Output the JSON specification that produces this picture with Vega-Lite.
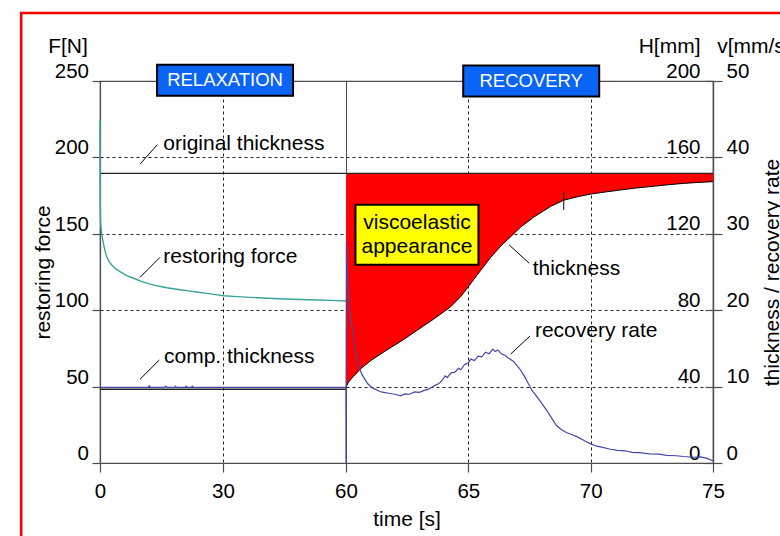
{
  "$schema": "https://vega.github.io/schema/vega-lite/v6.json",
  "width": 613,
  "height": 382,
  "autosize": {"type": "none"},
  "padding": {"left": 100, "top": 81, "right": 67, "bottom": 73},
  "background": "#ffffff",
  "config": {
    "view": {"stroke": "#4d4d4d", "strokeWidth": 1.2},
    "font": "Liberation Sans",
    "axis": {
      "labelFont": "Liberation Sans", "labelFontSize": 20.5, "labelColor": "#000",
      "titleFont": "Liberation Sans", "titleFontSize": 21, "titleFontWeight": "normal", "titleColor": "#000",
      "domainColor": "#4d4d4d", "domainWidth": 1.2, "tickColor": "#4d4d4d", "tickWidth": 1.2,
      "gridColor": "#222", "gridWidth": 1, "gridDash": [3, 3],
      "labelOverlap": false, "labelFlush": false, "labelBound": false
    },
    "text": {"font": "Liberation Sans"}
  },
  "datasets": {
    "force": [
      {"t": 0, "F": 224}, {"t": 0.03, "F": 195}, {"t": 0.07, "F": 170}, {"t": 0.14, "F": 159},
      {"t": 0.25, "F": 153.5}, {"t": 0.41, "F": 150.3}, {"t": 0.6, "F": 147}, {"t": 0.82, "F": 143.8},
      {"t": 1.2, "F": 139}, {"t": 1.63, "F": 135}, {"t": 2.2, "F": 132}, {"t": 2.86, "F": 129.6},
      {"t": 3.8, "F": 127.2}, {"t": 4.9, "F": 125.2}, {"t": 6.4, "F": 122.8}, {"t": 8.16, "F": 120.9},
      {"t": 10.1, "F": 118.9}, {"t": 12.2, "F": 117.1}, {"t": 14.2, "F": 115.8}, {"t": 16.3, "F": 114.7},
      {"t": 18.7, "F": 113.7}, {"t": 21.2, "F": 112.8}, {"t": 23.6, "F": 111.9}, {"t": 26.1, "F": 111.0},
      {"t": 28.2, "F": 110.2}, {"t": 30.2, "F": 109.5}, {"t": 33.4, "F": 108.9}, {"t": 36.7, "F": 108.4},
      {"t": 40.8, "F": 107.8}, {"t": 44.9, "F": 107.3}, {"t": 49, "F": 107.0}, {"t": 53.1, "F": 106.7},
      {"t": 56.5, "F": 106.4}, {"t": 60, "F": 106.0}
    ],
    "thick": [
      {"t": 60, "H": 38.7}, {"t": 60.03, "H": 40.5}, {"t": 60.1, "H": 42.3}, {"t": 60.3, "H": 45.3},
      {"t": 60.6, "H": 49.3}, {"t": 61.0, "H": 53.5}, {"t": 61.6, "H": 58.6}, {"t": 62.3, "H": 64.2},
      {"t": 62.92, "H": 69.6}, {"t": 63.6, "H": 75.5}, {"t": 64.28, "H": 81.8}, {"t": 64.7, "H": 87.3},
      {"t": 65.03, "H": 92.8}, {"t": 65.5, "H": 100.8}, {"t": 65.91, "H": 107.6}, {"t": 66.3, "H": 113.2},
      {"t": 66.73, "H": 118.5}, {"t": 67.13, "H": 123.4}, {"t": 67.68, "H": 128.8}, {"t": 68.36, "H": 134.3},
      {"t": 68.9, "H": 137.6}, {"t": 69.5, "H": 139.5}, {"t": 70.0, "H": 140.8}, {"t": 70.6, "H": 141.9},
      {"t": 71.2, "H": 142.9}, {"t": 71.8, "H": 143.9}, {"t": 72.43, "H": 144.7}, {"t": 73.1, "H": 145.6},
      {"t": 73.8, "H": 146.4}, {"t": 74.4, "H": 146.9}, {"t": 75, "H": 147.3}
    ],
    "levels": [
      {"level": "original", "t": 0, "H": 151.6}, {"level": "original", "t": 75, "H": 151.6},
      {"level": "comp", "t": 0, "H": 38.6}, {"level": "comp", "t": 60, "H": 38.6}
    ],
    "marker": [{"t": 68.9, "H": 132.5, "H2": 142.2}],
    "rate": [
      {"t": 0, "v": 9.9}, {"t": 3, "v": 9.9}, {"t": 11.8, "v": 9.9}, {"t": 12.0, "v": 10.1}, {"t": 12.3, "v": 9.9},
      {"t": 15.8, "v": 9.9}, {"t": 16.0, "v": 10.05}, {"t": 16.3, "v": 9.9}, {"t": 18.2, "v": 9.9}, {"t": 18.4, "v": 10.05},
      {"t": 18.7, "v": 9.9}, {"t": 20.8, "v": 9.9}, {"t": 21.0, "v": 10.05}, {"t": 21.3, "v": 9.9}, {"t": 22.3, "v": 9.9},
      {"t": 22.5, "v": 10.05}, {"t": 22.8, "v": 9.9}, {"t": 40, "v": 9.9}, {"t": 59.97, "v": 9.9}, {"t": 60.0, "v": 0},
      {"t": 60.015, "v": 29}, {"t": 60.05, "v": 25.5}, {"t": 60.1, "v": 22}, {"t": 60.18, "v": 19.2}, {"t": 60.27, "v": 17.4},
      {"t": 60.37, "v": 15}, {"t": 60.48, "v": 13.05}, {"t": 60.65, "v": 11.6}, {"t": 60.88, "v": 10.4}, {"t": 61.1, "v": 9.8},
      {"t": 61.43, "v": 9.3}, {"t": 61.8, "v": 9.1}, {"t": 62.0, "v": 9.0}, {"t": 62.24, "v": 8.8}, {"t": 62.4, "v": 9.05},
      {"t": 62.6, "v": 9.0}, {"t": 62.8, "v": 9.3}, {"t": 63.0, "v": 9.25}, {"t": 63.2, "v": 9.5}, {"t": 63.4, "v": 9.7},
      {"t": 63.6, "v": 10.1}, {"t": 63.8, "v": 10.4}, {"t": 63.95, "v": 10.9}, {"t": 64.05, "v": 11.4}, {"t": 64.14, "v": 11.2},
      {"t": 64.3, "v": 11.8}, {"t": 64.45, "v": 11.9}, {"t": 64.6, "v": 12.4}, {"t": 64.69, "v": 12.2}, {"t": 64.85, "v": 12.9},
      {"t": 65.0, "v": 13.1}, {"t": 65.1, "v": 13.6}, {"t": 65.25, "v": 13.4}, {"t": 65.4, "v": 14.0}, {"t": 65.55, "v": 13.9},
      {"t": 65.7, "v": 14.5}, {"t": 65.85, "v": 14.3}, {"t": 66.0, "v": 14.9}, {"t": 66.1, "v": 14.6}, {"t": 66.2, "v": 14.8},
      {"t": 66.35, "v": 14.3}, {"t": 66.5, "v": 14.1}, {"t": 66.65, "v": 13.7}, {"t": 66.85, "v": 13.3}, {"t": 67.0, "v": 12.7},
      {"t": 67.13, "v": 12.2}, {"t": 67.3, "v": 11.3}, {"t": 67.45, "v": 10.4}, {"t": 67.6, "v": 9.5}, {"t": 67.8, "v": 8.7},
      {"t": 68.0, "v": 7.8}, {"t": 68.2, "v": 6.9}, {"t": 68.4, "v": 5.9}, {"t": 68.6, "v": 4.9}, {"t": 68.8, "v": 4.4},
      {"t": 69.0, "v": 4.0}, {"t": 69.25, "v": 3.7}, {"t": 69.5, "v": 3.35}, {"t": 69.75, "v": 2.9}, {"t": 70.0, "v": 2.5},
      {"t": 70.25, "v": 2.2}, {"t": 70.5, "v": 2.05}, {"t": 70.8, "v": 1.8}, {"t": 71.1, "v": 1.65}, {"t": 71.4, "v": 1.6},
      {"t": 71.7, "v": 1.4}, {"t": 72.0, "v": 1.35}, {"t": 72.4, "v": 1.2}, {"t": 72.8, "v": 1.15}, {"t": 73.1, "v": 1.0},
      {"t": 73.5, "v": 0.95}, {"t": 73.8, "v": 0.85}, {"t": 74.2, "v": 0.75}, {"t": 74.5, "v": 0.8}, {"t": 74.75, "v": 0.6},
      {"t": 75.0, "v": 0.3}
    ],
    "notes": [
      {"label": "original thickness", "t": 15.44, "F": 204.8, "t1": 9.76, "F1": 195.6, "t2": 13.98, "F2": 208.3},
      {"label": "restoring force", "t": 15.44, "F": 131.1, "t1": 9.76, "F1": 121.5, "t2": 14.63, "F2": 134.6},
      {"label": "comp. thickness", "t": 15.6, "F": 65.3, "t1": 9.76, "F1": 54.8, "t2": 14.46, "F2": 67.4},
      {"label": "thickness", "t": 67.63, "F": 123.0, "t1": 66.67, "F1": 142.7, "t2": 67.49, "F2": 130.7},
      {"label": "recovery rate", "t": 67.72, "F": 82.3, "t1": 66.73, "F1": 71.3, "t2": 67.52, "F2": 83.1}
    ],
    "boxes": [
      {"label": "RELAXATION", "t": 30.5, "v": 50.1},
      {"label": "RECOVERY", "t": 67.57, "v": 50.0}
    ],
    "yellow": [{"label": "viscoelastic\nappearance", "t": 62.9, "v": 29.87}]
  },
  "resolve": {"scale": {"y": "independent"}},
  "layer": [
    {
      "layer": [
        {
          "data": {"name": "thick"},
          "mark": {"type": "area", "color": "#ff0000", "opacity": 1},
          "encoding": {
            "x": {"field": "t", "type": "quantitative"},
            "y": {
              "field": "H", "type": "quantitative",
              "scale": {"domain": [0, 200], "nice": false, "zero": false},
              "axis": {
                "orient": "right", "values": [0, 40, 80, 120, 160, 200], "grid": false,
                "tickSize": 9, "labelAlign": "right", "labelPadding": -22,
                "labelBaseline": "alphabetic", "labelOffset": -4,
                "title": "H[mm]", "titleAngle": 0, "titleAlign": "right", "titleBaseline": "alphabetic",
                "titleX": -13, "titleY": -28.5
              }
            },
            "y2": {"datum": 151.6}
          }
        },
        {
          "data": {"name": "thick"},
          "mark": {"type": "line", "color": "#000", "strokeWidth": 1},
          "encoding": {
            "x": {"field": "t", "type": "quantitative"},
            "y": {"field": "H", "type": "quantitative"}
          }
        },
        {
          "data": {"name": "levels"},
          "mark": {"type": "line", "color": "#222", "strokeWidth": 1.3},
          "encoding": {
            "x": {"field": "t", "type": "quantitative"},
            "y": {"field": "H", "type": "quantitative"},
            "detail": {"field": "level"}
          }
        },
        {
          "data": {"name": "marker"},
          "mark": {"type": "rule", "color": "#000", "strokeWidth": 1},
          "encoding": {
            "x": {"field": "t", "type": "quantitative"},
            "y": {"field": "H", "type": "quantitative"},
            "y2": {"field": "H2"}
          }
        }
      ]
    },
    {
      "data": {"name": "force"},
      "mark": {"type": "line", "color": "#3aa39a", "strokeWidth": 1.4},
      "encoding": {
        "x": {
          "field": "t", "type": "quantitative",
          "scale": {"domain": [0, 60, 75], "range": [0, 246, 613], "nice": false, "zero": false},
          "axis": {
            "values": [0, 30, 60, 65, 70, 75], "grid": true,
            "gridDash": {"condition": {"test": "datum.value === 60", "value": []}, "value": [3, 3]},
            "gridColor": {"condition": {"test": "datum.value === 60", "value": "#4d4d4d"}, "value": "#222"},
            "gridOpacity": {"condition": {"test": "datum.value === 0 || datum.value === 75", "value": 0}, "value": 1},
            "tickSize": 9, "labelPadding": 9.5,
            "title": "time [s]", "titleX": 306.5, "titleY": 62, "titleBaseline": "alphabetic"
          }
        },
        "y": {
          "field": "F", "type": "quantitative",
          "scale": {"domain": [0, 250], "nice": false, "zero": false},
          "axis": {
            "orient": "left", "values": [0, 50, 100, 150, 200, 250], "grid": true,
            "gridOpacity": {"condition": {"test": "datum.value === 0 || datum.value === 250", "value": 0}, "value": 1},
            "tickSize": 8, "labelPadding": 3.5, "labelBaseline": "alphabetic", "labelOffset": -3.5,
            "title": "restoring force", "titleAngle": -90, "titleX": -50.5, "titleY": 191,
            "titleBaseline": "alphabetic", "titleAlign": "center"
          }
        }
      }
    },
    {
      "data": {"name": "rate"},
      "mark": {"type": "line", "color": "#4646a8", "strokeWidth": 1.2},
      "encoding": {
        "x": {"field": "t", "type": "quantitative"},
        "y": {
          "field": "v", "type": "quantitative",
          "scale": {"domain": [0, 50], "nice": false, "zero": false},
          "axis": {
            "orient": "right", "values": [0, 10, 20, 30, 40, 50], "grid": false,
            "tickSize": -8, "labelPadding": 21, "labelBaseline": "alphabetic", "labelOffset": -4,
            "title": "thickness / recovery rate", "titleAngle": -90, "titleX": 65, "titleY": 191,
            "titleAlign": "center", "titleBaseline": "alphabetic"
          }
        }
      }
    },
    {
      "layer": [
        {
          "data": {"name": "notes"},
          "mark": {"type": "rule", "color": "#000", "strokeWidth": 1},
          "encoding": {
            "x": {"field": "t1", "type": "quantitative"},
            "x2": {"field": "t2"},
            "y": {
              "field": "F1", "type": "quantitative",
              "scale": {"domain": [0, 250], "nice": false, "zero": false},
              "axis": {
                "orient": "left", "labels": false, "ticks": false, "domain": false, "grid": false,
                "title": "F[N]", "titleAngle": 0, "titleAlign": "right", "titleBaseline": "alphabetic",
                "titleX": -12.7, "titleY": -29
              }
            },
            "y2": {"field": "F2"}
          }
        },
        {
          "data": {"name": "notes"},
          "mark": {"type": "text", "align": "left", "baseline": "alphabetic", "fontSize": 21, "color": "#000"},
          "encoding": {
            "x": {"field": "t", "type": "quantitative"},
            "y": {"field": "F", "type": "quantitative"},
            "text": {"field": "label"}
          }
        },
        {
          "data": {"values": [{}]},
          "mark": {"type": "rect", "filled": false, "color": "#ff0000", "strokeWidth": 2.6},
          "encoding": {
            "x": {"datum": -19.22, "type": "quantitative"},
            "x2": {"datum": 200},
            "y": {"datum": 294.5, "type": "quantitative"},
            "y2": {"datum": -300}
          }
        }
      ]
    },
    {
      "layer": [
        {
          "data": {"name": "boxes"},
          "mark": {"type": "point", "shape": "M-4.387,-1H4.387V1H-4.387Z", "size": 961, "filled": true, "fill": "#0a64f5", "stroke": "#000", "strokeWidth": 2, "opacity": 1},
          "encoding": {
            "x": {"field": "t", "type": "quantitative"},
            "y": {
              "field": "v", "type": "quantitative",
              "scale": {"domain": [0, 50], "nice": false, "zero": false},
              "axis": {
                "orient": "right", "labels": false, "ticks": false, "domain": false, "grid": false,
                "title": "v[mm/s]", "titleAngle": 0, "titleAlign": "left", "titleBaseline": "alphabetic",
                "titleX": 3.7, "titleY": -28.5
              }
            }
          }
        },
        {
          "data": {"name": "boxes"},
          "mark": {"type": "text", "align": "center", "baseline": "middle", "fontSize": 18.5, "color": "#ffffff"},
          "encoding": {
            "x": {"field": "t", "type": "quantitative"},
            "y": {"field": "v", "type": "quantitative"},
            "text": {"field": "label"}
          }
        },
        {
          "data": {"name": "yellow"},
          "mark": {"type": "point", "shape": "M-2.05,-1H2.05V1H-2.05Z", "size": 3600, "filled": true, "fill": "#ffff00", "stroke": "#000", "strokeWidth": 2, "opacity": 1},
          "encoding": {
            "x": {"field": "t", "type": "quantitative"},
            "y": {"field": "v", "type": "quantitative"}
          }
        },
        {
          "data": {"name": "yellow"},
          "mark": {"type": "text", "align": "center", "baseline": "middle", "fontSize": 21, "color": "#000", "lineBreak": "\n", "lineHeight": 24, "dy": -12},
          "encoding": {
            "x": {"field": "t", "type": "quantitative"},
            "y": {"field": "v", "type": "quantitative"},
            "text": {"field": "label"}
          }
        }
      ]
    }
  ]
}
